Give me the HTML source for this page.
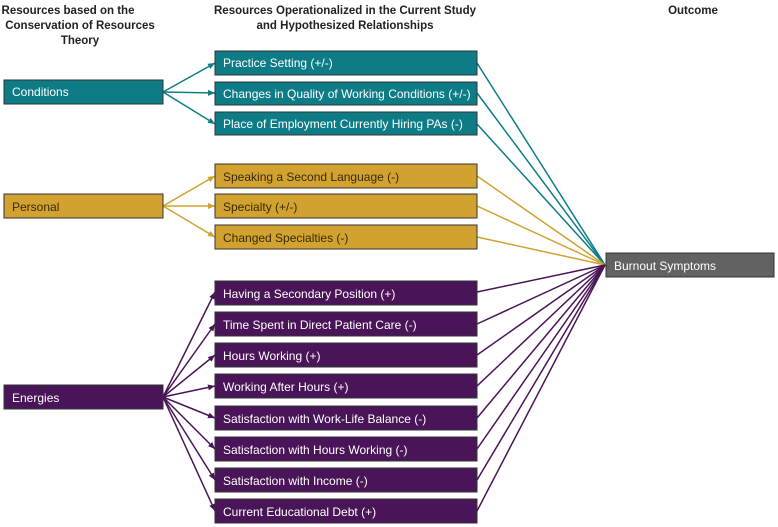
<!DOCTYPE html>
<html><head><style>
body{margin:0;background:#fff;}
svg{display:block;font-family:"Liberation Sans",sans-serif;}
.h{font-weight:bold;font-size:11.5px;fill:#222;text-anchor:middle;}
.t{font-size:12px;fill:#fff;}
</style></head><body>
<svg width="778" height="527" viewBox="0 0 778 527" xmlns="http://www.w3.org/2000/svg">
<defs>
<marker id="at" markerWidth="8" markerHeight="8" refX="7" refY="3" orient="auto" markerUnits="userSpaceOnUse"><path d="M0,0 L7,3 L0,6z" fill="#0e7c86"/></marker>
<marker id="ag" markerWidth="8" markerHeight="8" refX="7" refY="3" orient="auto" markerUnits="userSpaceOnUse"><path d="M0,0 L7,3 L0,6z" fill="#d1a22f"/></marker>
<marker id="ap" markerWidth="8" markerHeight="8" refX="7" refY="3" orient="auto" markerUnits="userSpaceOnUse"><path d="M0,0 L7,3 L0,6z" fill="#4a1458"/></marker>
</defs>
<text class="h" x="68" y="14">Resources based on the</text>
<text class="h" x="80" y="29">Conservation of Resources</text>
<text class="h" x="80" y="44">Theory</text>
<text class="h" x="345" y="14">Resources Operationalized in the Current Study</text>
<text class="h" x="345" y="29">and Hypothesized Relationships</text>
<text class="h" x="693" y="14">Outcome</text>

<!-- lines to outcome -->
<g stroke-width="1.5" fill="none">
<g stroke="#0e7c86">
<line x1="477" y1="63" x2="605" y2="265"/><line x1="477" y1="93" x2="605" y2="265"/><line x1="477" y1="124" x2="605" y2="265"/>
<line x1="163" y1="92" x2="215" y2="63" marker-end="url(#at)"/><line x1="163" y1="92" x2="215" y2="93" marker-end="url(#at)"/><line x1="163" y1="92" x2="215" y2="124" marker-end="url(#at)"/>
</g>
<g stroke="#d1a22f">
<line x1="477" y1="176" x2="605" y2="265"/><line x1="477" y1="206" x2="605" y2="265"/><line x1="477" y1="237" x2="605" y2="265"/>
<line x1="163" y1="206" x2="215" y2="176" marker-end="url(#ag)"/><line x1="163" y1="206" x2="215" y2="206" marker-end="url(#ag)"/><line x1="163" y1="206" x2="215" y2="237" marker-end="url(#ag)"/>
</g>
<g stroke="#4a1458">
<line x1="477" y1="292" x2="605" y2="265"/><line x1="477" y1="324" x2="605" y2="265"/><line x1="477" y1="355" x2="605" y2="265"/><line x1="477" y1="386" x2="605" y2="265"/><line x1="477" y1="418" x2="605" y2="265"/><line x1="477" y1="449" x2="605" y2="265"/><line x1="477" y1="480" x2="605" y2="265"/><line x1="477" y1="511" x2="605" y2="265"/>
<line x1="163" y1="397" x2="215" y2="292" marker-end="url(#ap)"/><line x1="163" y1="397" x2="215" y2="324" marker-end="url(#ap)"/><line x1="163" y1="397" x2="215" y2="355" marker-end="url(#ap)"/><line x1="163" y1="397" x2="215" y2="386" marker-end="url(#ap)"/><line x1="163" y1="397" x2="215" y2="418" marker-end="url(#ap)"/><line x1="163" y1="397" x2="215" y2="449" marker-end="url(#ap)"/><line x1="163" y1="397" x2="215" y2="480" marker-end="url(#ap)"/><line x1="163" y1="397" x2="215" y2="511" marker-end="url(#ap)"/>
</g>
</g>

<g stroke="#333" stroke-width="1">
<rect x="4" y="80" width="159" height="24" fill="#0e7c86"/>
<rect x="215" y="51" width="262" height="24" fill="#0e7c86"/>
<rect x="215" y="82" width="262" height="23" fill="#0e7c86"/>
<rect x="215" y="112" width="262" height="23" fill="#0e7c86"/>
<rect x="4" y="194" width="159" height="24" fill="#d1a22f"/>
<rect x="215" y="164" width="262" height="24" fill="#d1a22f"/>
<rect x="215" y="194" width="262" height="24" fill="#d1a22f"/>
<rect x="215" y="225" width="262" height="24" fill="#d1a22f"/>
<rect x="4" y="385" width="159" height="24" fill="#4a1458"/>
<rect x="215" y="281" width="262" height="24" fill="#4a1458"/>
<rect x="215" y="312" width="262" height="24" fill="#4a1458"/>
<rect x="215" y="343" width="262" height="24" fill="#4a1458"/>
<rect x="215" y="374" width="262" height="24" fill="#4a1458"/>
<rect x="215" y="406" width="262" height="24" fill="#4a1458"/>
<rect x="215" y="437" width="262" height="24" fill="#4a1458"/>
<rect x="215" y="468" width="262" height="24" fill="#4a1458"/>
<rect x="215" y="499" width="262" height="24" fill="#4a1458"/>
<rect x="606" y="253" width="168" height="24" fill="#626262"/>
</g>

<text class="t" x="12" y="96">Conditions</text>
<text class="t" x="223" y="67">Practice Setting (+/-)</text>
<text class="t" x="223" y="98">Changes in Quality of Working Conditions (+/-)</text>
<text class="t" x="223" y="128">Place of Employment Currently Hiring PAs (-)</text>
<text class="t" x="12" y="211" fill="#3a2a05" style="fill:#3a2a05">Personal</text>
<text class="t" x="223" y="181" style="fill:#3a2a05">Speaking a Second Language (-)</text>
<text class="t" x="223" y="211" style="fill:#3a2a05">Specialty (+/-)</text>
<text class="t" x="223" y="242" style="fill:#3a2a05">Changed Specialties (-)</text>
<text class="t" x="12" y="402">Energies</text>
<text class="t" x="223" y="298">Having a Secondary Position (+)</text>
<text class="t" x="223" y="329">Time Spent in Direct Patient Care (-)</text>
<text class="t" x="223" y="360">Hours Working (+)</text>
<text class="t" x="223" y="391">Working After Hours (+)</text>
<text class="t" x="223" y="423">Satisfaction with Work-Life Balance (-)</text>
<text class="t" x="223" y="454">Satisfaction with Hours Working (-)</text>
<text class="t" x="223" y="485">Satisfaction with Income (-)</text>
<text class="t" x="223" y="516">Current Educational Debt (+)</text>
<text class="t" x="614" y="270">Burnout Symptoms</text>
</svg>
</body></html>
